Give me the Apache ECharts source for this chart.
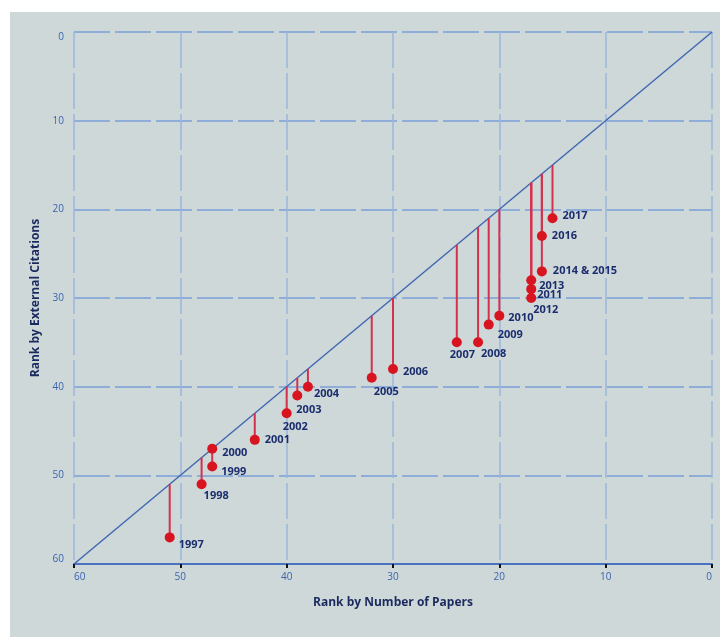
<!DOCTYPE html>
<html>
<head>
<meta charset="utf-8">
<script src="https://cdn.jsdelivr.net/npm/echarts@6/dist/echarts.min.js"></script>
<style>
html,body{margin:0;padding:0;background:#ffffff;width:720px;height:637px;overflow:hidden;}
#chart{position:absolute;left:10px;top:12px;width:710px;height:625px;background:#ced8d8;}
</style>
</head>
<body>
<div id="chart"></div>
<script>
// Data
const yearLabels = ['1997','1998','1999','2000','2001','2002','2003','2004','2005','2006','2007','2008','2009','2010','2011','2012','2013','2014 & 2015','2016','2017'];
const paperRank =    [51,48,47,47,43,40,39,38,32,30,24,22,21,20,17,17,17,16,16,15];
const citationRank = [57,51,49,47,46,43,41,40,39,38,35,35,33,32,29,30,28,27,23,21];
const axisTicks = [0,10,20,30,40,50,60];

// Label placement (style only): offset from dot, per label
const labelOffsets = {
  '1997':[4,7], '1998':[-3,12], '1999':[4,5], '2000':[5,4], '2001':[5,0],
  '2002':[-9,14], '2003':[-6,14], '2004':[1,7], '2005':[-3,14], '2006':[5,3],
  '2007':[-12,13], '2008':[-2,12], '2009':[4,10], '2010':[4,2], '2011':[1,6],
  '2012':[-3,12], '2013':[3,6], '2014 & 2015':[6,-1], '2016':[5,0], '2017':[5,-2]
};

const chart = echarts.init(document.getElementById('chart'), null, {renderer:'canvas'});

const points = paperRank.map((x,i)=>({
  value:[x, citationRank[i]],
  name: yearLabels[i],
  label:{offset: labelOffsets[yearLabels[i]] || [0,0]}
}));
const drops = paperRank.map((x,i)=>[x, citationRank[i]]);

const option = {
  animation:false,
  grid:{left:64, right:8, top:20, bottom:73},
  xAxis:{
    type:'value', min:0, max:60, interval:10, inverse:true, position:'bottom',
    name:'Rank by Number of Papers', nameLocation:'middle', nameGap:33,
    nameTextStyle:{color:'#1b2a5e', fontSize:12, fontWeight:'bold', fontFamily:'Open Sans'},
    axisLine:{show:true, onZero:false, lineStyle:{color:'#4a72c0', width:2}},
    axisTick:{show:true, length:4, lineStyle:{color:'#111', width:2}},
    axisLabel:{color:'#3a64b0', fontSize:10, fontFamily:'Open Sans', margin:8, alignMinLabel:'right', alignMaxLabel:'left'},
    splitLine:{show:true, lineStyle:{color:'#9cb6dd', width:1.5, type:[36,5]}}
  },
  yAxis:{
    type:'value', min:0, max:60, interval:10, inverse:true,
    name:'Rank by External Citations', nameLocation:'middle', nameGap:31,
    nameTextStyle:{color:'#1b2a5e', fontSize:12, fontWeight:'bold', fontFamily:'Open Sans'},
    axisLine:{show:false, onZero:false},
    axisTick:{show:false},
    axisLabel:{color:'#3a64b0', fontSize:10, fontFamily:'Open Sans', margin:10, verticalAlignMinLabel:'top', verticalAlignMaxLabel:'bottom'},
    splitLine:{show:true, lineStyle:{color:'#8fadd9', width:2, type:[36,5]}}
  },
  series:[
    {
      type:'line', data:[[60,60],[0,0]], symbol:'none', z:3,
      lineStyle:{color:'#4168b2', width:1.5}, silent:true
    },
    {
      type:'custom', z:4,
      data: drops,
      renderItem:function(params, api){
        const x = api.value(0), y = api.value(1);
        const p0 = api.coord([x, x]);
        const p1 = api.coord([x, y]);
        return {type:'line', shape:{x1:p0[0], y1:p0[1], x2:p1[0], y2:p1[1]},
          style:{stroke:'#d3324e', lineWidth:2}};
      }
    },
    {
      type:'scatter', z:5, symbolSize:10, data:points,
      itemStyle:{color:'#d7141f', opacity:1},
      label:{show:true, position:'right', distance:0, formatter:'{b}',
        color:'#1b2d6e', fontSize:11, fontWeight:'bold', fontFamily:'Open Sans'}
    }
  ]
};
chart.setOption(option);
</script>
</body>
</html>
